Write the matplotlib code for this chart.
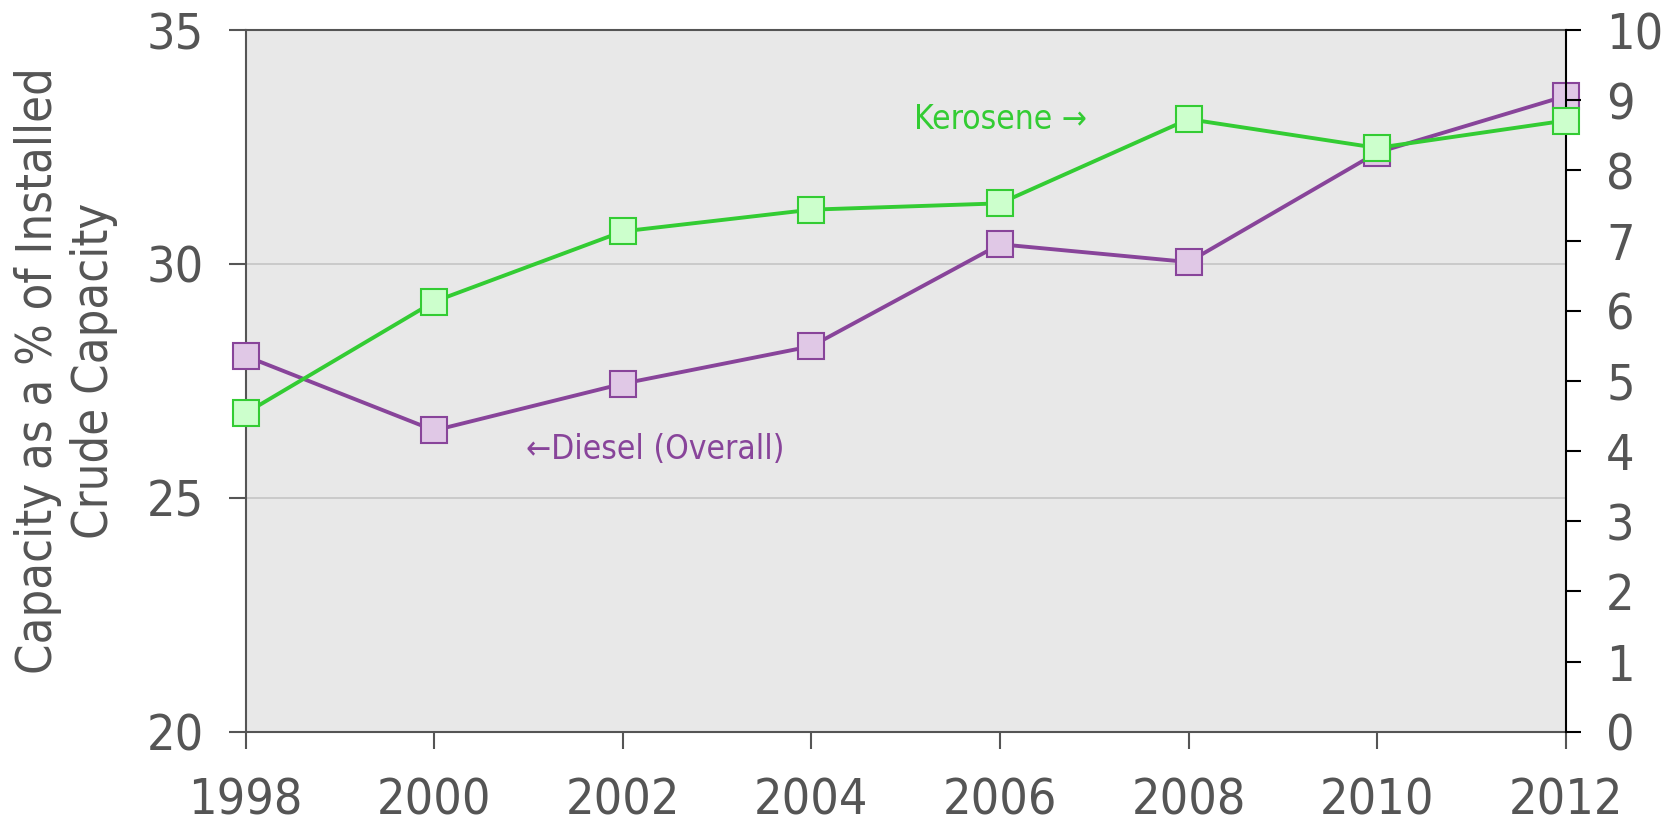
import matplotlib
matplotlib.use("Agg")
import matplotlib.pyplot as plt

years = [1998, 2000, 2002, 2004, 2006, 2008, 2010, 2012]
diesel = [28.03, 26.44, 27.44, 28.24, 30.42, 30.04, 32.38, 33.59]   # left axis
kerosene = [4.54, 6.13, 7.13, 7.44, 7.53, 8.73, 8.32, 8.71]         # right axis

x_ticks = [1998, 2000, 2002, 2004, 2006, 2008, 2010, 2012]
left_ticks = [20, 25, 30, 35]
right_ticks = list(range(0, 11))

plt.rcParams["font.family"] = ["DejaVu Sans"]
plt.rcParams["font.stretch"] = "condensed"

GREEN = "#33cc33"
GREEN_FACE = "#ccffcc"
PURPLE = "#88449a"
PURPLE_FACE = "#e0c8e6"
TXT = "#555555"

fig = plt.figure(figsize=(16.71, 8.27), dpi=100)
ax = fig.add_axes([0.147, 0.1152, 0.79, 0.8485])
ax.set_facecolor("#e8e8e8")
ax2 = ax.twinx()

ax.set_xlim(1998, 2012)
ax.set_ylim(20, 35)
ax2.set_ylim(0, 10)

for g in [25, 30]:
    ax.axhline(g, color="#c4c4c4", lw=1.2, zorder=0)

ax.plot(years, diesel, color=PURPLE, lw=2.8, marker="s", ms=18.5,
        mfc=PURPLE_FACE, mec=PURPLE, mew=1.5, zorder=3, clip_on=False)
ax2.plot(years, kerosene, color=GREEN, lw=2.8, marker="s", ms=18.5,
         mfc=GREEN_FACE, mec=GREEN, mew=1.5, zorder=3, clip_on=False)

ax.set_xticks(x_ticks)
ax.set_yticks(left_ticks)
ax2.set_yticks(right_ticks)

ax.tick_params(axis="x", direction="out", length=12, width=1.5, color="#555555",
               labelsize=36, labelcolor=TXT, pad=20)
ax.tick_params(axis="y", direction="out", length=12, width=1.5, color="#555555",
               labelsize=36, labelcolor=TXT, pad=18)
ax2.tick_params(axis="y", direction="out", length=11, width=1.5, color="#000000",
                labelsize=36, labelcolor=TXT, pad=18)

for s in ["left", "bottom", "top"]:
    ax.spines[s].set_color("#555555")
    ax.spines[s].set_linewidth(1.5)
ax.spines["right"].set_visible(False)
for s in ["left", "bottom", "top"]:
    ax2.spines[s].set_visible(False)
ax2.spines["right"].set_color("#000000")
ax2.spines["right"].set_linewidth(1.5)

fig.text(0.0395, 0.5514, "Capacity as a % of Installed\nCrude Capacity",
         fontsize=35, color=TXT, linespacing=1.2, rotation=90,
         ha="center", va="center")

ax2.text(2006.0, 8.73, "Kerosene \u2192", color=GREEN, fontsize=24,
         ha="center", va="center")
ax.text(2002.34, 26.03, "\u2190Diesel (Overall)", color=PURPLE, fontsize=24,
        ha="center", va="center")

fig.savefig("out.png", dpi=100)
